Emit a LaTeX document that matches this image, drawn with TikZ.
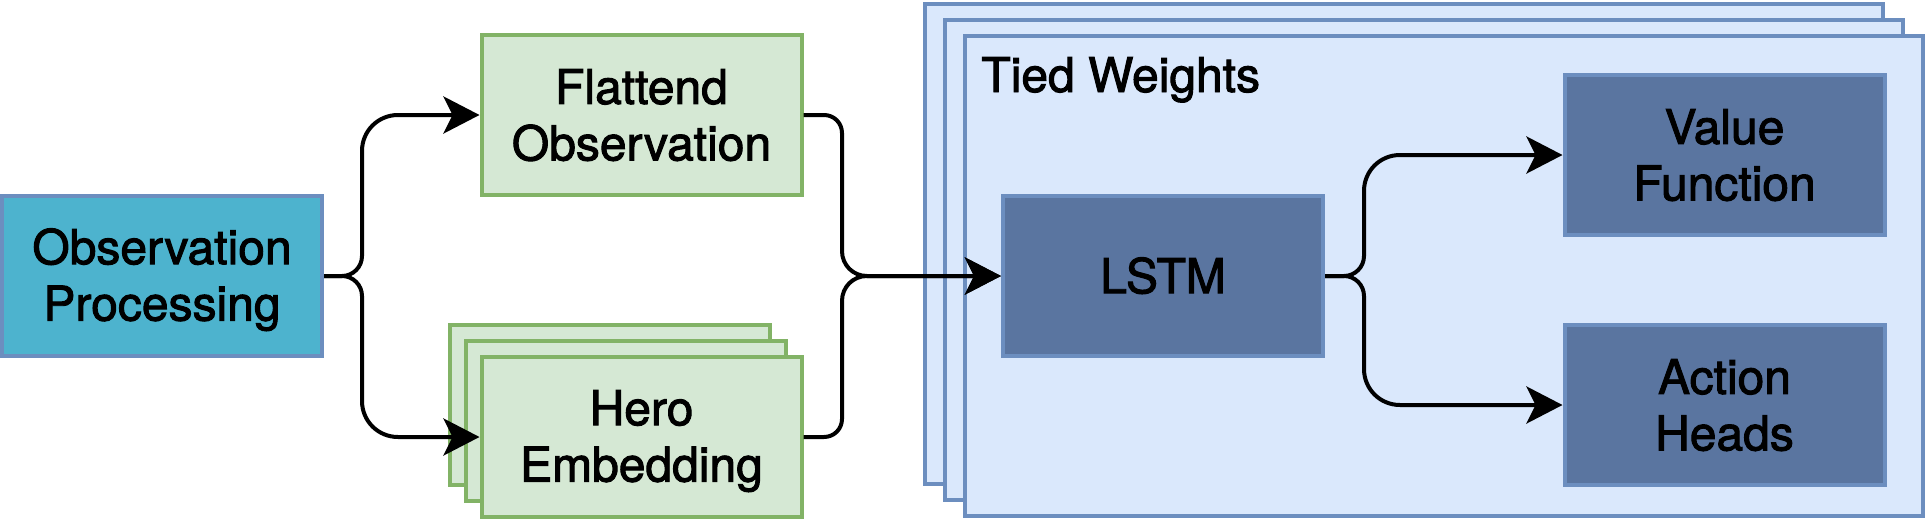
\documentclass[tikz,border=0pt]{standalone}
\usepackage{fontspec}
\setmainfont{TeX Gyre Heros}[FakeBold=2]
\usetikzlibrary{arrows.meta}
\definecolor{obsfill}{HTML}{4DB3CE}
\definecolor{bluestroke}{HTML}{6C8EBF}
\definecolor{greenfill}{HTML}{D5E8D4}
\definecolor{greenstroke}{HTML}{82B366}
\definecolor{tiedfill}{HTML}{DAE8FC}
\definecolor{darkfill}{HTML}{5A75A0}
\newcommand\vst{\rule[-0.184em]{0pt}{1.084em}}
\begin{document}
\begin{tikzpicture}[x=0.5pt,y=-0.5pt,
  box/.style={draw, line width=2pt, minimum width=160pt, minimum height=80pt, inner sep=0pt, align=center, font=\fontsize{24}{28.2}\selectfont},
  obsbox/.style={box, fill=obsfill, draw=bluestroke},
  greenbox/.style={box, fill=greenfill, draw=greenstroke},
  darkbox/.style={box, fill=darkfill, draw=bluestroke},
  tiedbox/.style={draw=bluestroke, fill=tiedfill, line width=2pt, minimum width=479pt, minimum height=240pt, inner sep=0pt},
  conn/.style={line width=2pt, -{Stealth[length=18pt,width=18.5pt,inset=4.5pt]}},
  lbl/.style={inner sep=0pt, font=\fontsize{24}{28.2}\selectfont}]
\useasboundingbox (0,0) rectangle (1928,520);

% stacked "Tied Weights" containers
\node[tiedbox] (tw3) at (1403.5,243.5) {};
\node[tiedbox] (tw2) at (1423.5,259.5) {};
\node[tiedbox] (tw) at (1443.5,275.5) {};
\node[lbl, anchor=base west] (twlabel) at (981,92) {Tied Weights};

% stacked hero embeddings
\node[greenbox] (hero3) at (609.5,405) {};
\node[greenbox] (hero2) at (625.5,421) {};
\node[greenbox] (hero) at (641.5,437) {\vst Hero\\\vst Embedding};

\node[obsbox] (obs) at (162,276) {\vst Observation\\\vst Processing};
\node[greenbox] (flat) at (641.5,115) {\vst Flattend\\\vst Observation};
\node[darkbox] (lstm) at (1163,276) {\vst LSTM};
\node[darkbox] (value) at (1724.5,155) {\vst Value\\\vst Function};
\node[darkbox] (action) at (1724.5,405) {\vst Action\\\vst Heads};

% connectors
\draw[conn] (obs.east) -- (342,276) .. controls (353,276) and (362,267) .. (362,256) -- (362,151) .. controls (362,131) and (378,115) .. (398,115) -- (flat.west);
\draw[conn] (obs.east) -- (342,276) .. controls (353,276) and (362,285) .. (362,296) -- (362,401) .. controls (362,421) and (378,437) .. (398,437) -- (hero.west);
\draw[conn] (flat.east) -- (824,115) .. controls (834,115) and (842,123) .. (842,133) -- (842,251) .. controls (842,265) and (853,276) .. (867,276) -- (lstm.west);
\draw[conn] (hero.east) -- (824,437) .. controls (834,437) and (842,429) .. (842,419) -- (842,301) .. controls (842,287) and (853,276) .. (867,276) -- (lstm.west);
\draw[conn] (lstm.east) -- (1344,276) .. controls (1355,276) and (1364,267) .. (1364,256) -- (1364,191) .. controls (1364,171) and (1380,155) .. (1400,155) -- (value.west);
\draw[conn] (lstm.east) -- (1344,276) .. controls (1355,276) and (1364,285) .. (1364,296) -- (1364,369) .. controls (1364,389) and (1380,405) .. (1400,405) -- (action.west);
\end{tikzpicture}
\end{document}
